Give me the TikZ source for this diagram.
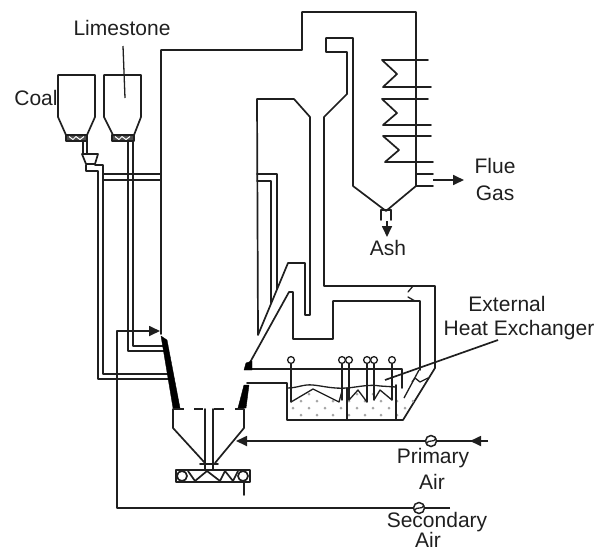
\documentclass[tikz,border=0pt]{standalone}
\usepackage{fontspec}
\setmainfont{Liberation Sans}
\usetikzlibrary{arrows.meta}
\definecolor{ink}{gray}{0.12}
\tikzset{
  wall/.style={draw=ink,line width=1.7pt,line join=round,line cap=round},
  thin wall/.style={draw=ink,line width=1.3pt,line join=round},
  heavy/.style={fill=black,draw=black,line width=0.4pt,line join=round},
  lbl/.style={font=\fontsize{21pt}{24pt}\selectfont,text=ink,inner sep=0pt,anchor=center},
  flow/.style={wall,line cap=butt,-{Triangle[length=11pt,width=10pt]}},
  valve/.style={circle,draw=ink,line width=1.5pt,minimum size=11pt,inner sep=0pt,fill=white},
  probe/.style={draw=ink,line width=1.3pt,fill=white},
  speck/.style={fill=gray!70},
}
\begin{document}
\begin{tikzpicture}[x=1pt,y=-1pt]
\useasboundingbox (0,0) rectangle (601,552);
% labels
\node[lbl] (limestone) at (122,28) {Limestone};
\node[lbl] (coal) at (36,98) {Coal};
\node[lbl] (flue) at (495,166) {Flue};
\node[lbl] (gas) at (495,193) {Gas};
\node[lbl] (ash) at (388,248) {Ash};
\node[lbl] (ext) at (507,304) {External};
\node[lbl] (hx) at (519,330) {Heat Exchanger};
\node[lbl] (prim) at (433,458) {Primary};
\node[lbl] (primair) at (432,482) {Air};
\node[lbl] (sec) at (437,522) {Secondary};
\node[lbl] (secair) at (428,540) {Air};
% hoppers
\draw[wall] (58,75) -- (95,75) -- (95,117) -- (87,135) -- (66,135) -- (58,117) -- cycle;
\draw[wall] (104,75) -- (141,75) -- (141,117) -- (134,135) -- (113,135) -- (104,117) -- cycle;
\foreach \xa/\xb in {66/87,112/134}{
  \fill[gray!60!black] (\xa,135) rectangle (\xb,141);
  \draw[white,line width=1pt] (\xa+3,136.5) -- (\xa+7,139.5) -- (\xa+10,136.5) -- (\xa+14,139.5) -- (\xa+18,136.5);
  \draw[wall,line width=1.3pt] (\xa,135) rectangle (\xb,141);
}
\draw[thin wall] (123,46) -- (125,98);
% coal feed
\draw[wall] (83,141) -- (83,154);
\draw[wall] (87,141) -- (87,154);
\draw[wall] (82,154) -- (98,154) -- (95,164) -- (86,164) -- cycle;
\draw[wall] (95,165) -- (103,165) -- (103,374) -- (169,374);
\draw[wall] (86,165) -- (86,171) -- (98,171) -- (98,379) -- (169,379);
% limestone pipes
\draw[wall] (128,141) -- (128,351) -- (166,351);
\draw[wall] (133,141) -- (133,346) -- (164,346);
% branch to furnace
\draw[wall] (103,174) -- (161,174);
\draw[wall] (103,180) -- (161,180);
% furnace and cyclone outline
\draw[wall] (161,334) -- (161,50) -- (302,50) -- (302,12) -- (416,12) -- (416,186) -- (386,211) -- (353,186) -- (353,38) -- (326,38) -- (326,52) -- (347,52) -- (347,94) -- (324,117) -- (324,286) -- (435,286) -- (435,368) -- (403,420) -- (287,420) -- (287,383) -- (247,383);
\draw[wall] (258,335) -- (257,99) -- (294,99) -- (310,117) -- (310,315) -- (305,315) -- (305,263) -- (288,263) -- cycle;
% inner loop pipes
\draw[wall] (257,174) -- (277,174) -- (277,289);
\draw[wall] (257,181) -- (271,181) -- (271,303);
% return leg
\draw[wall] (248,366) -- (289,292) -- (293,292) -- (293,339) -- (333,339) -- (333,301) -- (420,301) -- (420,370);
\draw[wall] (246,369) -- (402,369) -- (402,388);
\draw[heavy] (244,370) -- (246,363) -- (252,361) -- (252,370) -- cycle;
\draw[wall,line width=1.3pt] (413,286) -- (408,292);
\draw[wall,line width=1.3pt] (408,297) -- (415,301);
% lower furnace
\draw[heavy] (161,336) -- (167,340) -- (180,408) -- (173,408) -- cycle;
\draw[heavy] (244,385) -- (249,385) -- (246,408) -- (238,408) -- cycle;
\draw[wall,line width=2.4pt,line cap=butt] (173,409) -- (184,409);
\draw[wall,line width=1.9pt,line cap=butt] (194,409) -- (203,409);
\draw[wall,line width=1.9pt,line cap=butt] (214,409) -- (224,409);
\draw[wall,line width=2.4pt,line cap=butt] (235,409) -- (244,409);
\draw[wall] (173,409) -- (173,428) -- (205,463);
\draw[wall] (244,409) -- (244,428) -- (215,463);
\draw[wall] (205,409) -- (205,470);
\draw[wall] (213,409) -- (213,470);
\draw[wall] (200,464) -- (218,464);
% screw
\draw[wall,line width=2.2pt] (176,470) rectangle (250,482);
\draw[wall] (182,476) circle[radius=5pt];
\draw[wall] (243,476) circle[radius=5pt];
\draw[wall] (188,471) -- (195,481) -- (207,471) -- (220,481) -- (225,471) -- (233,481) -- (238,471);
\draw[wall] (244,482) -- (244,495);
% convection pass coils
\draw[wall] (428,60) -- (382,60) -- (397,74) -- (383,87) -- (431,87);
\draw[wall] (428,99) -- (382,99) -- (397,113) -- (383,125) -- (431,125);
\draw[wall] (431,136) -- (383,136) -- (399,150) -- (385,162) -- (433,162);
\draw[wall] (416,174) -- (433,174);
\draw[wall] (416,186) -- (433,186);
\coordinate (fluestart) at (433,180);
\coordinate (flueend) at (464,180);
\draw[flow] (fluestart) -- (flueend);
% ash outlet
\draw[wall] (381,210) -- (391,210);
\draw[wall] (381,210) -- (381,220);
\draw[wall] (391,210) -- (391,220);
\coordinate (ashstart) at (387,221);
\coordinate (ashend) at (387,237);
\draw[flow] (ashstart) -- (ashend);
% external heat exchanger bed
\begin{scope}
\clip (287,388) -- (291,402) -- (313,390) -- (339,402) -- (342,390) -- (349,400) -- (358,390) -- (367,402) -- (374,390) -- (380,390) -- (392,400) -- (404,398) -- (412,382) -- (428,378) -- (403,420) -- (287,420) -- cycle;
\foreach \r/\y in {0/394,1/401,0/408,1/415}{
  \foreach \i in {0,...,8}{
    \fill[speck] (293+\i*16+\r*8,\y) circle[radius=1.5pt];
  }
}
\end{scope}
\draw[thin wall] (287,388) .. controls (298,388) and (303,384) .. (313,385) .. controls (323,386) and (333,389) .. (347,388) .. controls (358,387) and (370,384) .. (380,386) -- (396,387);
\draw[thin wall] (404,398) -- (419,370);
\draw[thin wall] (412,382) -- (415,378) -- (420,382) -- (428,378);
\draw[wall] (347,388) -- (347,420);
\draw[wall] (396,385) -- (396,420);
\draw[thin wall] (291,402) -- (313,389) -- (339,402) -- (342,391);
\draw[thin wall] (349,400) -- (358,390) -- (367,402);
\draw[thin wall] (374,400) -- (380,390) -- (392,400);
\foreach \px/\py in {291/402,342/400,349/400,367/402,374/400,392/400}{
  \draw[wall,line width=1.4pt] (\px,363) -- (\px,\py);
  \draw[probe] (\px,360) circle[radius=3.4pt];
}
\coordinate (hxend) at (385,380);
\coordinate (hxstart) at (498,340);
\draw[wall,line cap=butt] (hxstart) -- (hxend);
% air lines
\node[valve] (pv) at (431,441) {};
\node[valve] (sv) at (419,508) {};
\coordinate (pstart) at (488,441);
\coordinate (pmid) at (470,441);
\coordinate (cone) at (236,441);
\draw[wall,line cap=butt] (pstart) -- (pv);
\draw[flow] (pv) -- (cone);
\draw[flow] (pstart) -- (pmid);
\draw[thin wall] (426,444) .. controls (430,438) and (433,444) .. (436,438);
\draw[thin wall] (414,511) .. controls (418,505) and (421,511) .. (424,505);
\coordinate (send) at (450,508);
\coordinate (sinj) at (160,331);
\draw[wall,line cap=butt] (send) -- (sv);
\draw[flow] (sv) -- (117,508) -- (117,331) -- (sinj);
\end{tikzpicture}
\end{document}
